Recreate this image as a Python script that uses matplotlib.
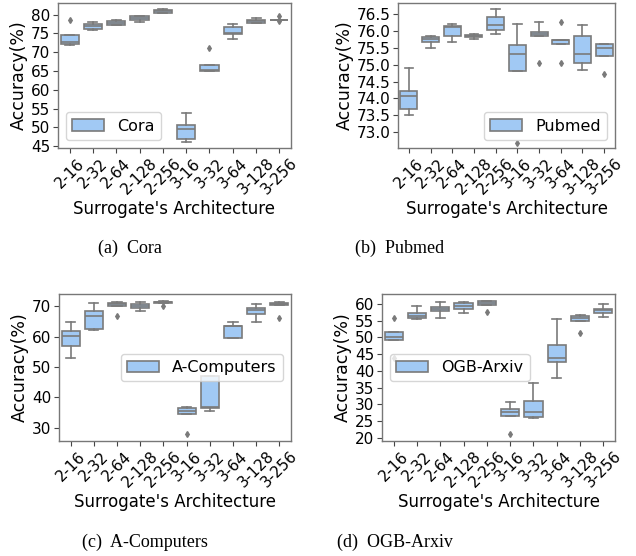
import matplotlib
matplotlib.use("Agg")
import matplotlib.pyplot as plt
from matplotlib.patches import Patch

archs = ["2-16", "2-32", "2-64", "2-128", "2-256", "3-16", "3-32", "3-64", "3-128", "3-256"]

# ---- Cora ----
cora_whislo = [71.8, 76.0, 77.3, 78.1, 80.5, 46.1, 65.0, 73.6, 77.8, 78.7]
cora_q1     = [72.3, 76.3, 77.3, 78.6, 80.5, 47.0, 65.0, 74.8, 77.8, 78.7]
cora_med    = [72.8, 77.0, 77.9, 79.0, 80.9, 49.6, 65.2, 75.2, 78.3, 78.7]
cora_q3     = [74.7, 77.4, 78.3, 79.6, 81.2, 50.6, 66.7, 76.7, 78.7, 78.7]
cora_whishi = [74.7, 78.0, 78.5, 79.7, 81.4, 53.9, 66.7, 77.4, 79.0, 78.7]
cora_fliers = [[78.5], [], [], [], [], [], [71.2], [], [], [79.7, 78.3]]

# ---- Pubmed ----
pub_whislo = [73.51, 75.51, 75.67, 75.76, 75.92, 74.81, 75.85, 75.61, 74.85, 75.27]
pub_q1     = [73.67, 75.69, 75.86, 75.83, 76.04, 74.81, 75.85, 75.61, 75.05, 75.27]
pub_med    = [74.06, 75.76, 76.12, 75.87, 76.19, 75.33, 75.93, 75.73, 75.33, 75.51]
pub_q3     = [74.22, 75.83, 76.15, 75.90, 76.41, 75.60, 75.99, 75.75, 75.86, 75.62]
pub_whishi = [74.90, 75.86, 76.22, 75.92, 76.65, 76.20, 76.28, 75.75, 76.17, 75.62]
pub_fliers = [[], [], [], [], [], [72.68], [75.05], [76.28, 75.05], [], [74.71]]

# ---- A-Computers ----
comp_whislo = [53.0, 62.1, 70.0, 68.6, 71.0, 34.5, 35.4, 59.6, 64.9, 70.4]
comp_q1     = [56.9, 62.7, 70.0, 69.4, 71.0, 34.5, 36.4, 59.6, 67.6, 70.4]
comp_med    = [60.2, 67.0, 70.7, 70.0, 71.3, 35.4, 36.7, 63.4, 68.7, 70.8]
comp_q3     = [61.8, 68.5, 71.0, 70.7, 71.5, 36.6, 46.9, 63.6, 69.4, 71.2]
comp_whishi = [64.7, 71.1, 71.3, 71.5, 71.8, 36.9, 46.9, 65.0, 70.7, 71.4]
comp_fliers = [[], [], [66.9], [], [70.2], [27.8], [], [], [], [66.1]]

# ---- OGB-Arxiv ----
arx_whislo = [49.2, 55.5, 55.8, 57.3, 59.8, 26.5, 25.8, 38.0, 55.0, 56.1]
arx_q1     = [49.2, 55.7, 57.8, 58.5, 59.8, 26.5, 26.1, 42.5, 55.0, 57.3]
arx_med    = [50.0, 56.5, 58.6, 59.5, 60.4, 27.6, 27.8, 43.8, 55.8, 58.1]
arx_q3     = [51.7, 57.3, 59.1, 60.3, 60.8, 28.5, 31.0, 47.7, 56.3, 58.6]
arx_whishi = [51.7, 59.3, 60.6, 60.5, 61.0, 30.8, 36.3, 55.5, 56.8, 60.0]
arx_fliers = [[55.8, 43.8], [], [], [], [57.5], [21.0], [], [], [51.2], []]

FACE = "#a1c9f4"
EDGE = "#7a7a7a"

plt.rcParams["font.family"] = "DejaVu Sans"

fig = plt.figure(figsize=(6.36, 5.56), dpi=100)

W, H = 636.0, 556.0
def axrect(l, t, r, b):
    return [l / W, 1 - b / H, (r - l) / W, (b - t) / H]

panels = [
    (axrect(58, 3, 291, 148), "Cora", cora_whislo, cora_q1, cora_med, cora_q3, cora_whishi, cora_fliers,
     (44.5, 83.1), [45, 50, 55, 60, 65, 70, 75, 80], "lower left", "{:.0f}"),
    (axrect(398, 3, 615, 148), "Pubmed", pub_whislo, pub_q1, pub_med, pub_q3, pub_whishi, pub_fliers,
     (72.52, 76.84), [73.0, 73.5, 74.0, 74.5, 75.0, 75.5, 76.0, 76.5], "lower right", "{:.1f}"),
    (axrect(59, 294, 291, 441), "A-Computers", comp_whislo, comp_q1, comp_med, comp_q3, comp_whishi, comp_fliers,
     (25.6, 74.1), [30, 40, 50, 60, 70], "center right", "{:.0f}"),
    (axrect(382, 294, 615, 441), "OGB-Arxiv", arx_whislo, arx_q1, arx_med, arx_q3, arx_whishi, arx_fliers,
     (19.0, 63.0), [20, 25, 30, 35, 40, 45, 50, 55, 60], "center left", "{:.0f}"),
]

for rect, name, wlo, q1, med, q3, whi, fl, ylim, yt, loc, fmt in panels:
    ax = fig.add_axes(rect)
    stats = []
    for i in range(len(archs)):
        stats.append(dict(whislo=wlo[i], q1=q1[i], med=med[i], q3=q3[i], whishi=whi[i],
                          fliers=fl[i], label=archs[i]))
    ax.bxp(stats, positions=range(len(archs)), widths=0.78, patch_artist=True,
           boxprops=dict(facecolor=FACE, edgecolor=EDGE, linewidth=1.2),
           medianprops=dict(color=EDGE, linewidth=1.2),
           whiskerprops=dict(color=EDGE, linewidth=1.2),
           capprops=dict(color=EDGE, linewidth=1.2),
           flierprops=dict(marker="d", markersize=3, markerfacecolor=EDGE,
                           markeredgecolor=EDGE))
    ax.set_xlim(-0.5, len(archs) - 0.5)
    ax.set_ylim(*ylim)
    ax.set_yticks(yt)
    ax.set_yticklabels([fmt.format(v) for v in yt])
    ax.set_xticks(range(len(archs)))
    ax.set_xticklabels(archs, rotation=45, ha="center")
    ax.tick_params(labelsize=11, length=3.5, color="#444444", pad=2)
    for s in ax.spines.values():
        s.set_color("#777777")
        s.set_linewidth(1.0)
    ax.set_xlabel("Surrogate's Architecture", fontsize=12, labelpad=2)
    ax.set_ylabel("Accuracy(%)", fontsize=12.5, labelpad=2)
    ax.legend(handles=[Patch(facecolor=FACE, edgecolor=EDGE, linewidth=1.2, label=name)],
              loc=loc, fontsize=11.5)

capfont = dict(family="Liberation Serif", fontsize=13, ha="center", va="center")
fig.text(130 / W, 1 - 248 / H, "(a)  Cora", **capfont)
fig.text(400 / W, 1 - 248 / H, "(b)  Pubmed", **capfont)
fig.text(145 / W, 1 - 542 / H, "(c)  A-Computers", **capfont)
fig.text(395 / W, 1 - 542 / H, "(d)  OGB-Arxiv", **capfont)

fig.savefig("out.png", dpi=100)
